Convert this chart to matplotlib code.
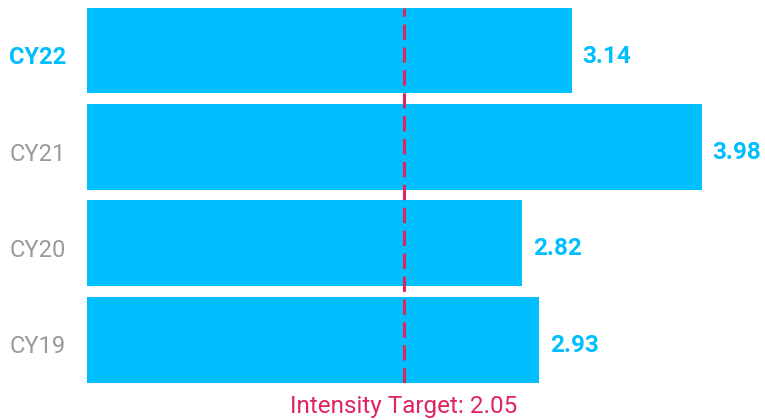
import matplotlib.pyplot as plt

plt.rcParams['font.family'] = ['Roboto', 'DejaVu Sans']

years = ['CY19', 'CY20', 'CY21', 'CY22']
intensity = [2.93, 2.82, 3.98, 3.14]
target = 2.05

blue = '#00BFFF'
pink = '#E0245E'
grey = '#9A9A9A'

fig = plt.figure(figsize=(7.65, 4.2), dpi=100)
ax = fig.add_axes([87 / 765, 1 - 382.5 / 420, 678 / 765, 375 / 420])

pos = list(range(len(years)))
ax.barh(pos, intensity, height=0.89, color=blue, zorder=1)
ax.axvline(target, color=pink, lw=2.2, ls=(0, (5, 2.5)), zorder=2)

for p, v in zip(pos, intensity):
    ax.text(v + 0.07, p - 0.06, f'{v:.2f}', color=blue, fontsize=17.5, fontweight='bold',
            va='center', ha='left')

ax.text(target, -0.57, f'Intensity Target: {target:.2f}', color=pink, fontsize=17.5,
        ha='center', va='top')

ax.set_xlim(0, 678 / 154.4)
ax.set_ylim(-0.445, 3.445)
ax.set_yticks([p - 0.05 for p in pos])
ax.set_yticklabels(years, fontsize=17, color=grey)
ticks = ax.get_yticklabels()
ticks[-1].set_color(blue)
ticks[-1].set_fontweight('bold')
ax.tick_params(axis='y', length=0, pad=15)
ax.set_xticks([])
for s in ax.spines.values():
    s.set_visible(False)

fig.savefig('out.png', dpi=100)
